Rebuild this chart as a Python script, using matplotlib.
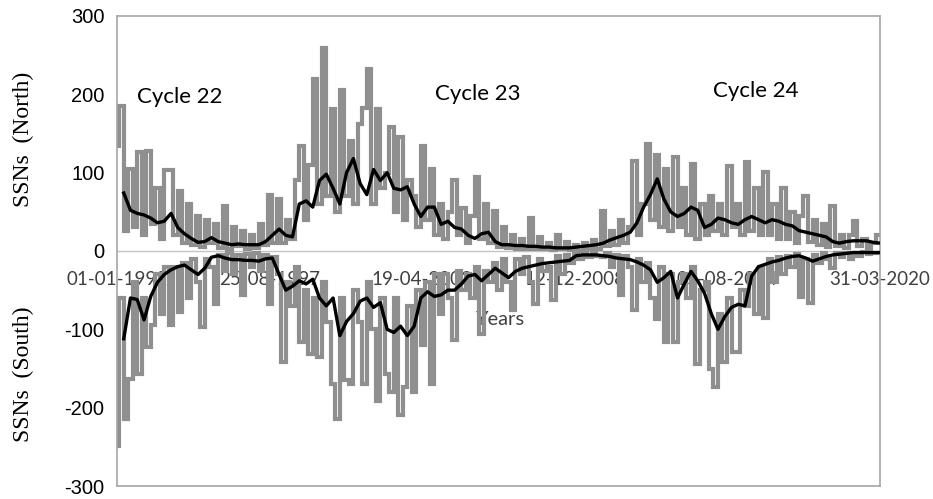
import pandas as pd
import matplotlib
matplotlib.use("Agg")
import matplotlib.pyplot as plt

# bimonthly hemispheric sunspot numbers, Jan 1992 .. Mar 2020 (one row per year)
NORTH_SSN = [
    134, 185, 25, 105, 30, 126,   # 1992
    20, 128, 35, 80, 15, 104,     # 1993
    104, 20, 77, 10, 60, 8,       # 1994
    45, 5, 40, 10, 35, 4,         # 1995
    57, 3, 30, 6, 25, 2,          # 1996
    20, 4, 35, 8, 71, 10,         # 1997
    67, 10, 40, 15, 90, 134,      # 1998
    40, 110, 219, 60, 259, 70,    # 1999
    181, 50, 206, 70, 140, 60,    # 2000
    162, 183, 232, 60, 181, 80,   # 2001
    100, 158, 50, 145, 40, 90,    # 2002
    70, 30, 134, 40, 105, 20,     # 2003
    60, 15, 50, 90, 20, 55,       # 2004
    10, 45, 95, 15, 60, 10,       # 2005
    51, 5, 30, 4, 20, 3,          # 2006
    15, 2, 42, 3, 18, 2,          # 2007
    10, 1, 20, 2, 12, 1,          # 2008
    8, 0, 10, 2, 14, 3,           # 2009
    51, 6, 25, 8, 40, 10,         # 2010
    30, 115, 20, 60, 137, 40,     # 2011
    122, 30, 105, 25, 120, 30,    # 2012
    80, 20, 111, 15, 60, 20,      # 2013
    70, 25, 60, 20, 109, 30,      # 2014
    60, 20, 114, 25, 80, 20,      # 2015
    101, 20, 60, 15, 80, 15,      # 2016
    50, 10, 45, 70, 12, 40,       # 2017
    8, 35, 5, 57, 6, 20,          # 2018
    4, 20, 38, 6, 15, 3,          # 2019
    10, 20,                       # 2020
]

SOUTH_SSN = [
    -249, -60, -215, -163, -40, -157,   # 1992
    -60, -123, -94, -30, -80, -20,      # 1993
    -95, -20, -78, -15, -60, -10,       # 1994
    -40, -97, -10, -20, -68, -5,        # 1995
    -25, -3, -30, -5, -56, -4,          # 1996
    -20, -3, -25, -5, -68, -8,          # 1997
    -30, -142, -40, -70, -20, -116,     # 1998
    -50, -132, -60, -135, -40, -90,     # 1999
    -170, -214, -60, -165, -170, -50,   # 2000
    -90, -170, -40, -100, -192, -60,    # 2001
    -157, -180, -60, -209, -173, -70,   # 2002
    -180, -50, -120, -40, -170, -30,    # 2003
    -80, -30, -60, -114, -25, -50,      # 2004
    -30, -60, -20, -106, -25, -40,      # 2005
    -15, -50, -10, -40, -75, -10,       # 2006
    -30, -8, -40, -68, -10, -25,        # 2007
    -20, -62, -6, -30, -5, -15,         # 2008
    -4, -10, -2, -8, -3, -6,            # 2009
    -8, -3, -20, -5, -56, -6,           # 2010
    -20, -75, -10, -40, -15, -60,       # 2011
    -87, -20, -116, -30, -116, -40,     # 2012
    -30, -60, -20, -144, -50, -40,      # 2013
    -151, -173, -80, -142, -60, -129,   # 2014
    -129, -50, -70, -30, -81, -20,      # 2015
    -85, -10, -40, -8, -30, -6,         # 2016
    -20, -4, -59, -10, -66, -5,         # 2017
    -15, -3, -10, -22, -2, -8,          # 2018
    -3, -10, -2, -6, -1, -4,            # 2019
    -2, -3,                             # 2020
]

# smoothed values, quarterly from Apr 1992
NORTH_SMOOTH = [
    74, 52, 48,
    46, 42, 36, 38,
    48, 30, 22, 16,
    11, 12, 17, 12,
    10, 8, 9, 8,
    8, 8, 12, 20,
    28, 20, 18, 60,
    64, 56, 90, 98,
    80, 60, 100, 118,
    86, 72, 104, 90,
    100, 80, 78, 82,
    60, 44, 56, 56,
    34, 38, 30, 28,
    20, 16, 22, 24,
    12, 8, 8, 7,
    7, 6, 6, 5,
    5, 4, 4, 4,
    5, 6, 7, 8,
    10, 14, 17, 20,
    24, 36, 56, 72,
    92, 66, 50, 44,
    48, 56, 52, 30,
    34, 42, 40, 36,
    34, 40, 44, 40,
    36, 40, 38, 34,
    32, 26, 24, 22,
    20, 18, 12, 10,
    12, 13, 13, 13,
    11, 10,
]

SOUTH_SMOOTH = [
    -112, -60, -62,
    -88, -58, -40, -30,
    -24, -20, -18, -24,
    -30, -22, -8, -6,
    -9, -11, -11, -12,
    -12, -13, -10, -9,
    -30, -50, -45, -38,
    -42, -36, -60, -70,
    -60, -108, -90, -80,
    -64, -60, -72, -66,
    -100, -104, -96, -108,
    -96, -60, -52, -58,
    -56, -50, -50, -42,
    -32, -30, -38, -30,
    -22, -28, -34, -26,
    -22, -20, -18, -16,
    -15, -14, -13, -12,
    -6, -5, -5, -5,
    -6, -7, -9, -10,
    -11, -14, -18, -24,
    -40, -34, -26, -60,
    -42, -26, -38, -54,
    -80, -100, -84, -72,
    -68, -70, -32, -20,
    -17, -14, -12, -9,
    -7, -6, -9, -13,
    -10, -7, -5, -4,
    -3, -2, -2, -2,
    -2, -2,
]

DATE_LABELS = ["01-01-1992", "25-08-1997", "19-04-2003",
               "12-12-2008", "05-08-2014", "31-03-2020"]
Y_TICKS = [-300, -200, -100, 0, 100, 200, 300]
CYCLES = [("Cycle 22", "1994-05-01", 197),
          ("Cycle 23", "2005-05-15", 200),
          ("Cycle 24", "2015-08-20", 204)]


def main():
    fig = plt.figure(figsize=(9.33, 4.99), dpi=100)
    ax = fig.add_axes([0.1254, 0.026, 0.8178, 0.942])

    gray_dates = pd.date_range("1992-01-01", periods=len(NORTH_SSN), freq="2MS")
    smooth_dates = pd.date_range("1992-04-01", periods=len(NORTH_SMOOTH), freq="3MS")

    ax.axhline(0, color="#c4c4c4", lw=1.0, zorder=1)

    # date labels sit just under the zero line, behind the data
    for lab in DATE_LABELS:
        ax.text(pd.to_datetime(lab, dayfirst=True), -37, lab, ha="center", va="center",
                fontsize=13.5, family="Lato", color="#404040", zorder=1)

    for series in (SOUTH_SSN, NORTH_SSN):
        ax.plot(gray_dates, series, color="#8f8f8f", lw=3.0, drawstyle="steps-mid",
                solid_joinstyle="miter", zorder=2)
    ax.plot(smooth_dates, NORTH_SMOOTH, color="black", lw=2.4, zorder=3)
    ax.plot(smooth_dates, SOUTH_SMOOTH, color="black", lw=2.4, zorder=3)

    for name, when, yv in CYCLES:
        ax.text(pd.Timestamp(when), yv, name, ha="center", va="center",
                fontsize=16, family="Lato", color="black")
    ax.text(pd.Timestamp("2006-03-01"), -87, "Years", ha="center", va="center",
            fontsize=14.5, family="Lato", color="#404040", zorder=1)

    ax.set_xlim(pd.Timestamp("1992-01-01"), pd.Timestamp("2020-03-31"))
    ax.set_ylim(-300, 300)
    ax.set_xticks([])
    ax.set_yticks(Y_TICKS)
    ax.set_yticklabels([str(v) for v in Y_TICKS], family="Liberation Sans", fontsize=14.5)
    ax.tick_params(axis="y", length=0, pad=9)

    for side in ["left", "right", "top", "bottom"]:
        ax.spines[side].set_color("#a6a6a6")
        ax.spines[side].set_linewidth(1.2)

    fig.text(0.025, 0.72, "SSNs  (North)", rotation=90, ha="center", va="center",
             family="Liberation Serif", fontsize=17)
    fig.text(0.025, 0.25, "SSNs  (South)", rotation=90, ha="center", va="center",
             family="Liberation Serif", fontsize=17)

    fig.savefig("out.png", dpi=100)


if __name__ == "__main__":
    main()
